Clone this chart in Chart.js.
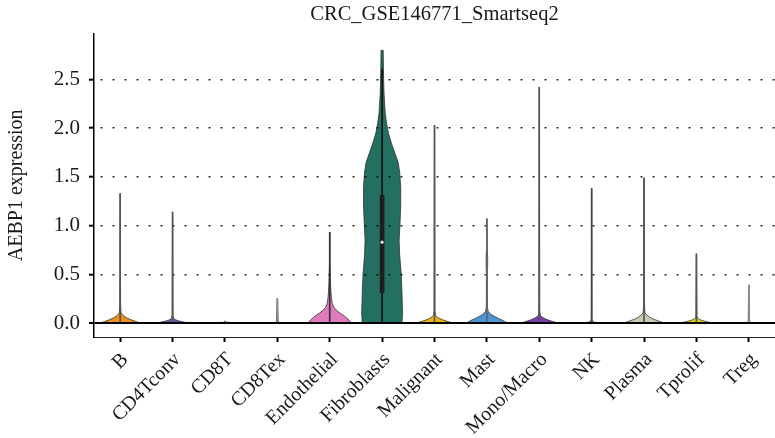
<!DOCTYPE html>
<html><head><meta charset="utf-8">
<style>html,body{margin:0;padding:0;background:#fff;}#wrap{width:775px;height:438px;}canvas{display:block;background:#fff;}</style>
<script src="https://cdn.jsdelivr.net/npm/chart.js@4/dist/chart.umd.min.js"></script>
</head><body><div id="wrap"><canvas id="c" width="775" height="438"></canvas></div>
<script>
const chartTitle = 'CRC_GSE146771_Smartseq2';
const yAxisTitle = 'AEBP1 expression';
const categories = ['B','CD4Tconv','CD8T','CD8Tex','Endothelial','Fibroblasts','Malignant','Mast','Mono/Macro','NK','Plasma','Tprolif','Treg'];
const violinColors = ['#f28e1c','#6a63b5','#3f9e4a','#9c6b4e','#e17bc0','#236f60','#f0b30e','#4d95d3','#7c3cb4','#d9654f','#c9ccb3','#e3d50b','#9a9a9a'];
const whiskerColors = ['#555','#555','#777','#8a8a8a','#333','#111','#555','#666','#555','#444','#555','#555','#8a8a8a'];
// whisker (line) top for each category
const maxValues = [1.33,1.14,0.02,0.25,0.93,2.61,2.03,1.07,2.42,1.38,1.49,0.71,0.39];
// inner box (only visible for Fibroblasts)
const boxQ1 = [null,null,null,null,null,0.31,null,null,null,null,null,null,null];
const boxQ3 = [null,null,null,null,null,1.31,null,null,null,null,null,null,null];
const medians = [null,null,null,null,null,0.83,null,null,null,null,null,null,null];
const yTicks = [0,0.5,1,1.5,2,2.5];
// violin density profiles: [expression value, relative half width]
const violinProfiles = [
  [[0,0.74],[0.01,0.66],[0.02,0.55],[0.035,0.4],[0.05,0.27],[0.07,0.15],[0.09,0.07],[0.11,0.03],[0.2,0.015],[1.33,0.004]],
  [[0,0.58],[0.008,0.47],[0.016,0.33],[0.025,0.2],[0.035,0.1],[0.05,0.035],[0.08,0.015],[1.14,0.004]],
  [[0,0.5],[0.004,0.25],[0.008,0.05],[0.02,0]],
  [[0,0.45],[0.004,0.2],[0.008,0.03],[0.25,0.008]],
  [[0,0.8],[0.02,0.77],[0.04,0.7],[0.07,0.57],[0.1,0.4],[0.13,0.26],[0.16,0.16],[0.2,0.1],[0.26,0.065],[0.32,0.047],[0.4,0.032],[0.5,0.02],[0.6,0.01],[0.93,0.002]],
  [[0,0.76],[0.1,0.78],[0.3,0.76],[0.5,0.73],[0.7,0.67],[0.85,0.65],[1.0,0.68],[1.2,0.71],[1.4,0.71],[1.55,0.67],[1.65,0.61],[1.75,0.48],[1.85,0.35],[1.95,0.24],[2.05,0.17],[2.15,0.12],[2.25,0.095],[2.35,0.075],[2.45,0.062],[2.6,0.052],[2.7,0.046],[2.8,0.042]],
  [[0,0.68],[0.01,0.58],[0.02,0.45],[0.035,0.29],[0.05,0.17],[0.065,0.085],[0.08,0.04],[0.12,0.016],[2.03,0.003]],
  [[0,0.77],[0.01,0.72],[0.025,0.62],[0.045,0.46],[0.065,0.31],[0.085,0.18],[0.1,0.11],[0.12,0.05],[0.16,0.022],[0.5,0.016],[0.6,0.03],[0.68,0.03],[0.76,0.014],[1.07,0.003]],
  [[0,0.68],[0.01,0.59],[0.02,0.46],[0.035,0.3],[0.05,0.18],[0.065,0.085],[0.08,0.04],[0.12,0.016],[2.42,0.003]],
  [[0,0.28],[0.006,0.17],[0.012,0.08],[0.02,0.03],[0.04,0.012],[1.38,0.003]],
  [[0,0.74],[0.01,0.66],[0.02,0.56],[0.035,0.41],[0.05,0.28],[0.07,0.16],[0.09,0.075],[0.11,0.032],[0.2,0.016],[1.49,0.004]],
  [[0,0.62],[0.008,0.5],[0.016,0.36],[0.026,0.22],[0.036,0.12],[0.05,0.045],[0.07,0.02],[0.71,0.004]],
  [[0,0.35],[0.004,0.15],[0.008,0.02],[0.39,0.008]]
];

const FONT = 'Liberation Serif';
const TEXT = '#1a1a1a';

const violinPlugin = {
  id: 'violins',
  beforeDraw(chart) {
    const xs = chart.scales.x, ys = chart.scales.y, ctx = chart.ctx, a = chart.chartArea;
    const half = (xs.getPixelForValue(1) - xs.getPixelForValue(0)) / 2;
    ctx.save();
    ctx.beginPath(); ctx.rect(a.left, a.top, a.right - a.left, a.bottom - a.top); ctx.clip();
    violinProfiles.forEach((prof, i) => {
      const cx = xs.getPixelForValue(i);
      ctx.beginPath();
      prof.forEach(([v, w], k) => {
        const px = cx - w * half, py = ys.getPixelForValue(v);
        if (k) ctx.lineTo(px, py); else ctx.moveTo(px, py);
      });
      for (let k = prof.length - 1; k >= 0; k--) {
        const [v, w] = prof[k];
        ctx.lineTo(cx + w * half, ys.getPixelForValue(v));
      }
      ctx.closePath();
      ctx.fillStyle = violinColors[i];
      ctx.fill();
      ctx.lineWidth = 0.8;
      ctx.strokeStyle = '#333';
      ctx.stroke();
    });
    ctx.restore();
  }
};

const titleCenterPlugin = {
  id: 'titleCenter',
  afterLayout(chart) {
    if (chart.titleBlock) {
      chart.titleBlock.left = chart.chartArea.left;
      chart.titleBlock.right = chart.chartArea.right;
    }
  }
};

new Chart(document.getElementById('c'), {
  data: {
    labels: categories,
    datasets: [
      {
        type: 'line', data: medians, showLine: false, pointRadius: 1.6, borderWidth: 0,
        pointBackgroundColor: '#e0e0e0', pointBorderWidth: 0, order: 0
      },
      {
        type: 'bar', data: boxQ1.map((q, i) => q == null ? null : [q, boxQ3[i]]),
        backgroundColor: '#1e1e1e', barThickness: 4, grouped: false, borderWidth: 0, order: 1
      },
      {
        type: 'bar', data: maxValues.map(v => [0, v]),
        backgroundColor: whiskerColors, barThickness: 1, grouped: false, borderWidth: 0, order: 2
      }
    ]
  },
  options: {
    responsive: false, animation: false, devicePixelRatio: 1,
    layout: { padding: 0, autoPadding: false },
    plugins: {
      legend: { display: false }, tooltip: { enabled: false },
      title: { display: true, text: chartTitle, color: TEXT,
        font: { family: FONT, size: 20.5, weight: 'normal' }, padding: { top: 2, bottom: 7 } }
    },
    scales: {
      x: {
        type: 'category', offset: true,
        grid: { drawOnChartArea: false, drawTicks: true, tickLength: 5, tickColor: '#000', tickWidth: 2, offset: false },
        border: { display: true, color: '#222', width: 1 },
        ticks: { autoSkip: false, maxRotation: 45, minRotation: 45, color: TEXT, padding: 6, labelOffset: 5,
          font: { family: FONT, size: 20 } },
        afterFit: s => { s.height = 101; s.paddingLeft = 0; s.paddingRight = 0; }
      },
      y: {
        type: 'linear', min: -0.1434, max: 2.971,
        afterBuildTicks: s => { s.ticks = yTicks.map(v => ({ value: v })); },
        ticks: { callback: v => Number(v).toFixed(1), color: TEXT, padding: 9,
          font: { family: FONT, size: 21 } },
        grid: {
          color: c => (c.tick && c.tick.value === 0) ? '#000' : 'rgba(0,0,0,0.85)',
          lineWidth: c => (c.tick && c.tick.value === 0) ? 2 : 1.4,
          tickLength: 5, tickColor: '#000', tickWidth: 2
        },
        border: { display: true, color: '#000', width: 1.5,
          dash: c => (c.tick && c.tick.value !== 0) ? [2, 10] : [], dashOffset: 6 },
        title: { display: true, text: yAxisTitle, color: TEXT,
          font: { family: FONT, size: 20 }, padding: { top: 5, bottom: 0 } },
        afterFit: s => { s.width = 94; s.paddingTop = 0; s.paddingBottom = 0; }
      }
    }
  },
  plugins: [violinPlugin, titleCenterPlugin]
});
</script>
</body></html>
